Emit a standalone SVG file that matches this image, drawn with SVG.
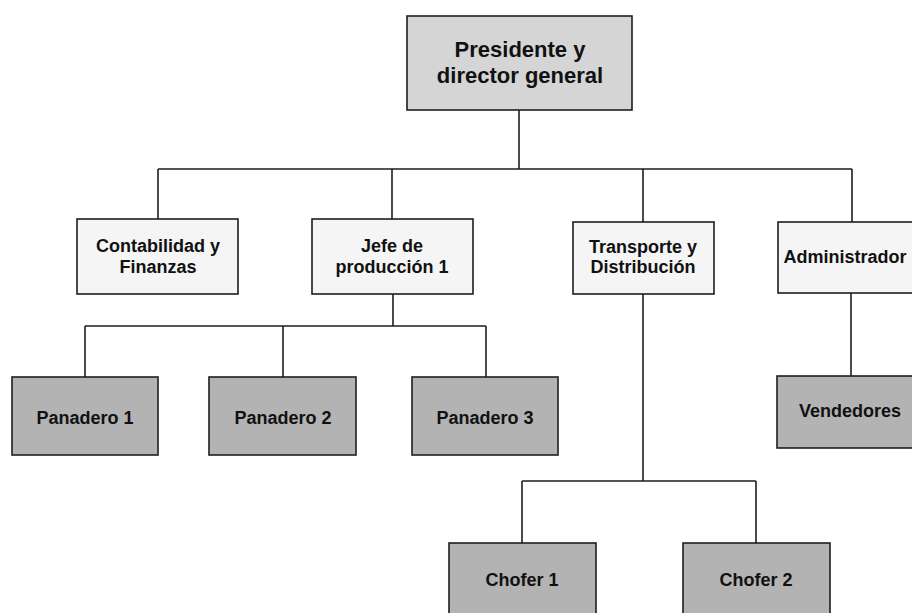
<svg xmlns="http://www.w3.org/2000/svg" width="912" height="613" viewBox="0 0 912 613">
  <style>
    .box { stroke: #1e1e1e; stroke-width: 1.6; }
    .top { fill: #d5d5d5; }
    .mid { fill: #f5f5f5; }
    .low { fill: #b3b3b3; }
    .lbl { font-family: "Liberation Sans", Arial, sans-serif; font-weight: bold; font-size: 18px; fill: #111; text-anchor: middle; }
    .big { font-size: 22px; }
    .wire { fill: none; stroke: #1e1e1e; stroke-width: 1.6; }
  </style>
  <rect width="912" height="613" fill="#ffffff"/>

  <!-- connectors -->
  <g id="connectors" class="wire">
    <path d="M519 110 V169 M158 169 H852 M158 169 V219 M392 169 V219 M643 169 V222 M852 169 V222"/>
    <path d="M393 294 V326 M85 326 H486 M85 326 V377 M283 326 V377 M486 326 V377"/>
    <path d="M643 294 V481 M522 481 H756 M522 481 V543 M756 481 V543"/>
    <path d="M851 293 V376"/>
  </g>

  <g id="presidente">
    <rect class="box top" x="407" y="16" width="225" height="94"/>
    <text class="lbl big" x="520" y="57">Presidente y</text>
    <text class="lbl big" x="520" y="83">director general</text>
  </g>

  <g id="contabilidad">
    <rect class="box mid" x="77" y="219" width="161" height="75"/>
    <text class="lbl" x="158" y="252">Contabilidad y</text>
    <text class="lbl" x="158" y="273">Finanzas</text>
  </g>

  <g id="jefe-produccion">
    <rect class="box mid" x="312" y="219" width="161" height="75"/>
    <text class="lbl" x="392" y="252">Jefe de</text>
    <text class="lbl" x="392" y="273">producción 1</text>
  </g>

  <g id="transporte">
    <rect class="box mid" x="573" y="222" width="141" height="72"/>
    <text class="lbl" x="643" y="253">Transporte y</text>
    <text class="lbl" x="643" y="273">Distribución</text>
  </g>

  <g id="administrador">
    <rect class="box mid" x="778" y="222" width="150" height="71"/>
    <text class="lbl" x="845" y="263">Administrador</text>
  </g>

  <g id="panadero-1">
    <rect class="box low" x="12" y="377" width="146" height="78"/>
    <text class="lbl" x="85" y="424">Panadero 1</text>
  </g>

  <g id="panadero-2">
    <rect class="box low" x="209" y="377" width="147" height="78"/>
    <text class="lbl" x="283" y="424">Panadero 2</text>
  </g>

  <g id="panadero-3">
    <rect class="box low" x="412" y="377" width="146" height="78"/>
    <text class="lbl" x="485" y="424">Panadero 3</text>
  </g>

  <g id="vendedores">
    <rect class="box low" x="777" y="376" width="150" height="72"/>
    <text class="lbl" x="850" y="417">Vendedores</text>
  </g>

  <g id="chofer-1">
    <rect class="box low" x="449" y="543" width="147" height="80"/>
    <text class="lbl" x="522" y="586">Chofer 1</text>
  </g>

  <g id="chofer-2">
    <rect class="box low" x="683" y="543" width="147" height="80"/>
    <text class="lbl" x="756" y="586">Chofer 2</text>
  </g>
</svg>
